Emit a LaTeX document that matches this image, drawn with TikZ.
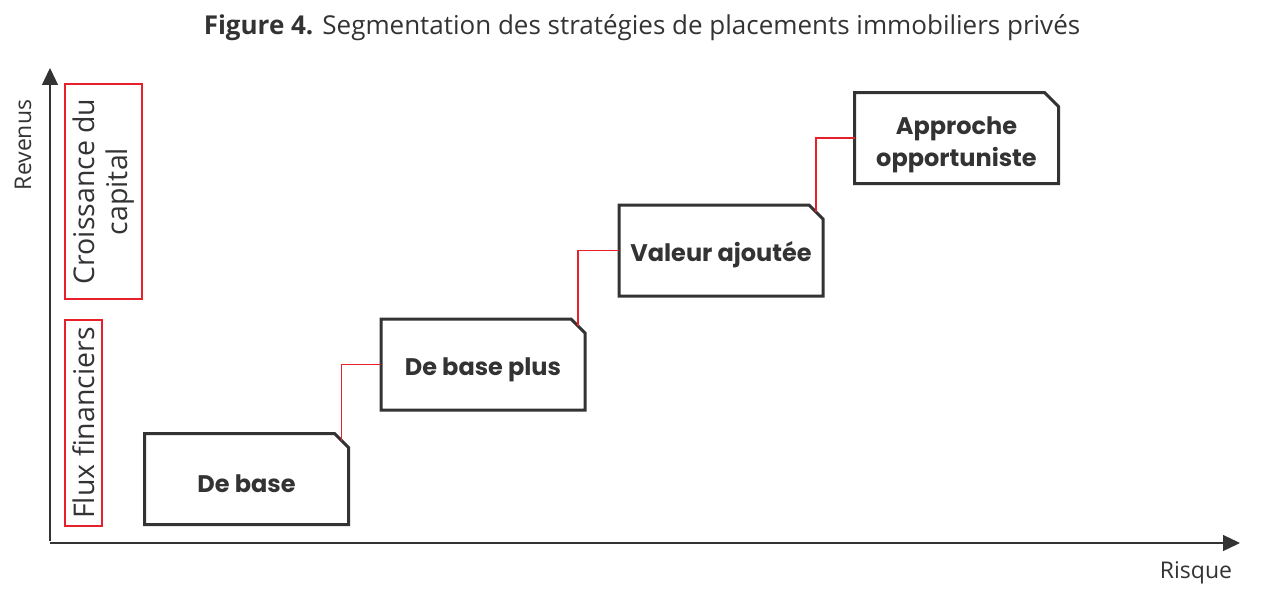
\documentclass[tikz,border=0pt]{standalone}
\usepackage{fontspec}
\setmainfont{Open Sans}
\newfontfamily\boxfont{Poppins}
\usetikzlibrary{positioning, calc, arrows.meta}
\definecolor{ink}{HTML}{333333}
\definecolor{rbcred}{HTML}{E8202A}
\newcommand\lift{\rule{0pt}{28pt}}
\newcommand\liftmore{\rule{0pt}{31pt}}
\begin{document}
\begin{tikzpicture}[x=1pt, y=-1pt,
    axis/.style={draw=ink, line width=1.3pt, -{Triangle[width=16pt,length=17pt]}},
    strat/.style={minimum width=204pt, minimum height=91pt, inner sep=0pt, outer sep=0pt,
      align=center, text=ink, font=\boxfont\bfseries\fontsize{24}{32}\selectfont},
    stratline/.style={draw=ink, line width=3pt, line join=miter},
    tag/.style={draw=rbcred, line width=1.2pt, inner sep=0pt, rotate=90, align=center,
      text=ink, font=\fontsize{28.5}{33}\selectfont},
    link/.style={draw=rbcred, line width=1.4pt},
    axlabel/.style={text=ink, font=\fontsize{23}{25}\selectfont}]
  \useasboundingbox (0,0) rectangle (1280,602);
  \node[font=\fontsize{26}{30}\selectfont, text=ink] (title) at (642,28)
    {\textbf{Figure 4.} Segmentation des stratégies de placements immobiliers privés};
  \coordinate (origin) at (50,543);
  \coordinate (ytip) at (50,68);
  \coordinate (xtip) at (1240,543);
  \draw[axis] ([yshift=2pt]origin) -- (ytip);
  \draw[axis] (origin) -- (xtip);
  \node[axlabel, rotate=90] (revenus) at (23,145) {Revenus};
  \node[axlabel] (risque) at (1196,573) {Risque};
  \node[tag, minimum width=215pt, minimum height=77pt] (croissance) at (103.5,191.5)
    {Croissance du\\capital};
  \node[tag, minimum width=206pt, minimum height=37pt] (flux) at (83.5,423)
    {Flux financiers};
  \node[strat] (base) at (246.5,479) {\lift De base};
  \node[strat] (baseplus) at (483,364.5) {\lift De base plus};
  \node[strat] (valeur) at (721,250.5) {\lift Valeur ajoutée};
  \node[strat] (approche) at (956.5,138) {\liftmore Approche\\opportuniste};
  \foreach \b in {base, baseplus, valeur, approche} {
    \draw[stratline] (\b.south west) |- ($(\b.north east)+(-14,0)$)
      -- ($(\b.north east)+(0,14)$) |- cycle;
    \coordinate (\b-c) at ($(\b.north east)+(-7,7)$);
  }
  \draw[link] (base-c) |- (baseplus.west);
  \draw[link] (baseplus-c) |- (valeur.west);
  \draw[link] (valeur-c) |- (approche.west);
\end{tikzpicture}
\end{document}
